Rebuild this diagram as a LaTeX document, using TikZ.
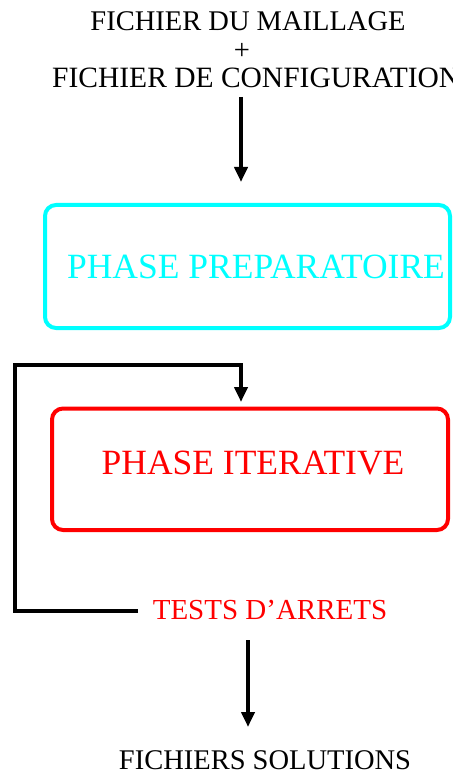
\documentclass[tikz,border=0pt]{standalone}
\usepackage{fontspec}
\setmainfont{Liberation Serif}
\usetikzlibrary{arrows.meta}
\definecolor{prepcyan}{RGB}{0,255,255}
\definecolor{iterred}{RGB}{255,0,0}
\tikzset{
  plaintxt/.style={inner sep=0pt, anchor=base},
  flowarrow/.style={line width=4pt, -{Triangle[width=13pt,length=15pt]}, line join=miter},
  phasebox/.style={rounded corners=11pt, line width=4pt},
}
\begin{document}
\begin{tikzpicture}[x=1pt,y=-1pt]
\useasboundingbox (0,0) rectangle (452,775);
% input texts
\node[plaintxt, font=\fontsize{28.5}{30}\selectfont] (in1) at (248,31) {FICHIER DU MAILLAGE};
\node[plaintxt, font=\fontsize{28.5}{30}\selectfont] (plus) at (242,60) {+};
\node[plaintxt, anchor=base west, font=\fontsize{29.5}{31}\selectfont] (in2) at (52,88) {FICHIER DE CONFIGURATION};
% arrow 1
\coordinate (a1s) at (241,97);
\coordinate (a1e) at (241,182);
\draw[flowarrow] (a1s) -- (a1e);
% preparatory phase box
\draw[phasebox, draw=prepcyan] (45,205) rectangle (450,328);
\node[plaintxt, text=prepcyan, font=\fontsize{35.5}{38}\selectfont] (prep) at (256,278) {PHASE PREPARATOIRE};
% iterative phase box
\draw[phasebox, draw=iterred] (52,408.5) rectangle (448,530);
\node[plaintxt, text=iterred, font=\fontsize{35.5}{38}\selectfont] (iter) at (253,474) {PHASE ITERATIVE};
% tests
\node[plaintxt, text=iterred, font=\fontsize{29}{31}\selectfont] (tests) at (270,619) {TESTS D’ARRETS};
% loop
\coordinate (lps) at (138,611);
\coordinate (lpc) at (15,364.5);
\coordinate (lpe) at (241,402);
\draw[flowarrow] (lps) -| (lpc) -| (lpe);
% arrow 2
\coordinate (a2s) at (248,640);
\coordinate (a2e) at (248,727);
\draw[flowarrow] (a2s) -- (a2e);
% output
\node[plaintxt, font=\fontsize{28.5}{30}\selectfont] (out) at (265,769) {FICHIERS SOLUTIONS};
\end{tikzpicture}
\end{document}
